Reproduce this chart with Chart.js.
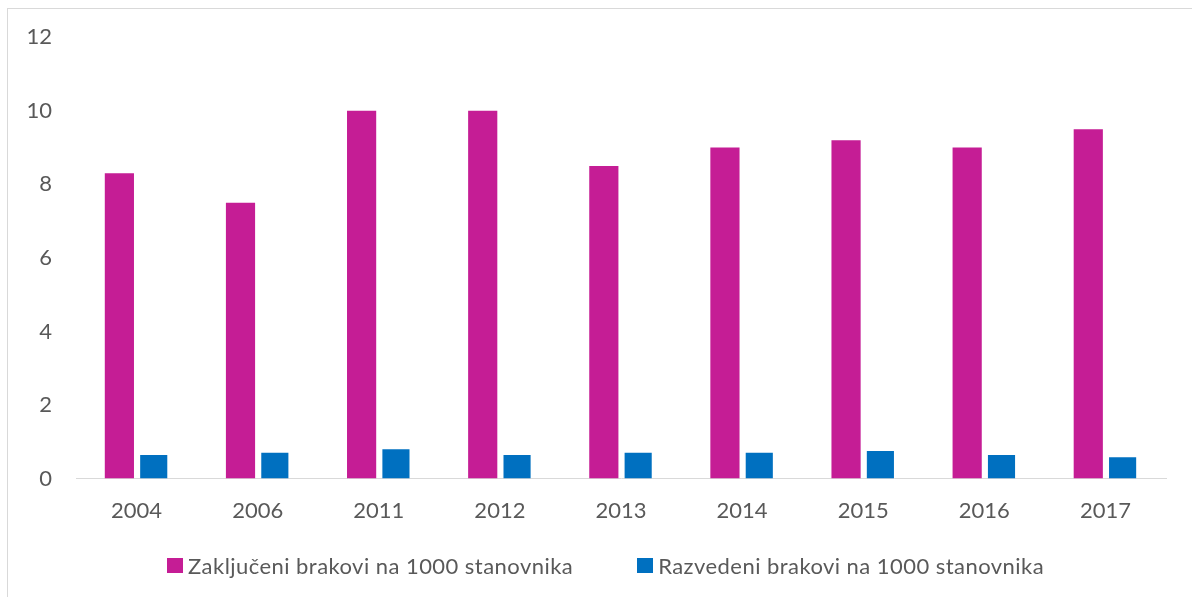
<!DOCTYPE html>
<html>
<head>
<meta charset="utf-8">
<script src="https://cdn.jsdelivr.net/npm/chart.js@4/dist/chart.umd.min.js"></script>
<style>
  html, body { margin: 0; padding: 0; background: #ffffff; }
  #wrap { position: relative; width: 1192px; height: 597px; overflow: hidden; }
  #frame { position: absolute; left: 7px; top: 8px; width: 1300px; height: 700px;
           border-left: 1px solid #d9d9d9; border-top: 1px solid #d9d9d9; box-sizing: border-box; }
  #chart { position: absolute; left: 0; top: 0; }
  #legend { position: absolute; left: 167px; top: 552px; display: flex; align-items: center;
            font-family: Lato, "Open Sans", sans-serif; font-size: 22px; letter-spacing: 0.45px;
            color: #595959; white-space: nowrap; }
  .item { display: flex; align-items: center; margin-right: 64px; }
  .box { width: 16px; height: 15px; margin-right: 5px; }
</style>
</head>
<body>
<div id="wrap">
  <div id="frame"></div>
  <canvas id="chart" width="1192" height="597"></canvas>
  <div id="legend"></div>
</div>
<script>
const categories = ["2004", "2006", "2011", "2012", "2013", "2014", "2015", "2016", "2017"];
const marriages = [8.3, 7.5, 10.0, 10.0, 8.5, 9.0, 9.2, 9.0, 9.5];
const divorces = [0.64, 0.7, 0.8, 0.64, 0.7, 0.7, 0.75, 0.64, 0.58];
const seriesNames = ["Zaključeni brakovi na 1000 stanovnika", "Razvedeni brakovi na 1000 stanovnika"];
const seriesColors = ["#C51D95", "#0070C0"];
const yTicks = [0, 2, 4, 6, 8, 10, 12];

const ctx = document.getElementById('chart').getContext('2d');
const chart = new Chart(ctx, {
  type: 'bar',
  data: {
    labels: categories,
    datasets: [
      { label: seriesNames[0], data: marriages, backgroundColor: seriesColors[0],
        categoryPercentage: 0.567, barPercentage: 0.85 },
      { label: seriesNames[1], data: divorces, backgroundColor: seriesColors[1],
        categoryPercentage: 0.567, barPercentage: 0.79 }
    ]
  },
  options: {
    responsive: false,
    animation: false,
    layout: { padding: { left: 0, right: 26, top: 32, bottom: 54 } },
    plugins: { legend: { display: false }, tooltip: { enabled: false } },
    scales: {
      x: {
        grid: { display: false, drawTicks: false },
        border: { display: true, color: '#d9d9d9', width: 1 },
        ticks: { color: '#595959', font: { family: 'Lato', size: 22 }, padding: 19 }
      },
      y: {
        min: 0, max: 12,
        afterBuildTicks: (scale) => { scale.ticks = yTicks.map(v => ({ value: v })); },
        afterFit: (scale) => { scale.width = 76; },
        grid: { display: false, drawTicks: false },
        border: { display: false },
        ticks: { color: '#595959', font: { family: 'Lato', size: 22 }, padding: 24 }
      }
    }
  }
});

const legend = document.getElementById('legend');
seriesNames.forEach((name, i) => {
  const item = document.createElement('div');
  item.className = 'item';
  const box = document.createElement('span');
  box.className = 'box';
  box.style.background = seriesColors[i];
  const txt = document.createElement('span');
  txt.textContent = name;
  item.appendChild(box);
  item.appendChild(txt);
  legend.appendChild(item);
});
</script>
</body>
</html>
